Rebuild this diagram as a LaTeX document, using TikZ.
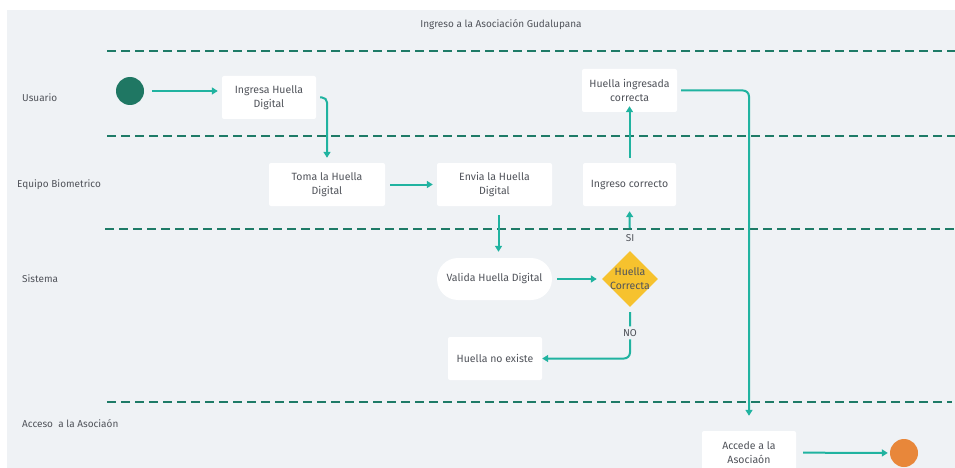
\documentclass[tikz,border=0pt]{standalone}
\usepackage{fontspec}
\setmainfont{Fira Sans}
\usetikzlibrary{arrows.meta,shapes.geometric}
\definecolor{bgcol}{HTML}{EFF2F5}
\definecolor{lanecol}{HTML}{1E7B67}
\definecolor{flowcol}{HTML}{20B3A0}
\definecolor{txtcol}{HTML}{50535A}
\definecolor{startcol}{HTML}{1F7763}
\definecolor{endcol}{HTML}{E8873A}
\definecolor{deccol}{HTML}{F6C22E}
\tikzset{
  x=1pt, y=-1pt,
  every node/.style={text=txtcol, font=\fontsize{10.5}{14}\selectfont},
  stepbox/.style={fill=white, rounded corners=2pt, minimum height=43pt, align=center, inner sep=2pt},
  pillbox/.style={fill=white, rounded corners=21pt, minimum height=42pt, minimum width=115pt, align=center},
  decbox/.style={diamond, fill=deccol, minimum width=56pt, minimum height=56pt, inner sep=0pt, aspect=1},
  lanelbl/.style={anchor=west, inner sep=0pt, font=\fontsize{10}{12}\selectfont},
  lanesep/.style={draw=lanecol, line width=2.4pt, dash pattern=on 9pt off 5pt},
  flow/.style={draw=flowcol, line width=2pt, -{Triangle[length=6pt,width=7pt]}},
  guard/.style={fill=bgcol, inner sep=3pt, font=\fontsize{10}{12}\selectfont},
}
\begin{document}
\begin{tikzpicture}
\useasboundingbox (0,0) rectangle (955,468);
\fill[bgcol] (7,10) rectangle (955,468);

% title and lane names
\node (title) at (501,25) {\fontsize{10}{12}\selectfont Ingreso a la Asociación Gudalupana};
\node[lanelbl] (lu) at (22,98) {Usuario};
\node[lanelbl] (le) at (17,185) {Equipo Biometrico};
\node[lanelbl] (ls) at (22,279) {Sistema};
\node[lanelbl] (la) at (22,424) {Acceso\ \ a la Asociaón};

% lane separators
\draw[lanesep] (107,51) -- (955,51);
\draw[lanesep] (107,136) -- (955,136);
\draw[lanesep] (105,229) -- (955,229);
\draw[lanesep] (107,402) -- (952,402);

% activities
\node[circle, fill=startcol, minimum size=28pt, inner sep=0pt] (start) at (130,91) {};
\node[stepbox, minimum width=94pt] (ingresa) at (269,97.5) {Ingresa Huella\\Digital};
\node[stepbox, minimum width=95pt] (hic) at (629.5,90.5) {Huella ingresada\\correcta};
\node[stepbox, minimum width=116pt] (toma) at (327,184.5) {Toma la Huella\\Digital};
\node[stepbox, minimum width=115pt] (envia) at (494.5,184.5) {Envia la Huella\\Digital};
\node[stepbox, minimum width=93pt] (ingc) at (629.5,184.5) {Ingreso correcto};
\node[pillbox] (valida) at (494.5,279) {Valida Huella Digital};
\node[decbox, label={[align=center, text=txtcol]center:Huella\\Correcta}] (dia) at (630,279) {};
\node[stepbox, minimum width=94pt] (noex) at (495,358.5) {Huella no existe};
\node[stepbox, minimum width=94pt] (accede) at (749,452.5) {Accede a la\\Asociaón};
\node[circle, fill=endcol, minimum size=28pt, inner sep=0pt] (stop) at (904,453) {};

% flow
\draw[flow, shorten <=8pt, shorten >=4pt] (start) -- (start -| ingresa.west);
\draw[flow, rounded corners=5pt] ([xshift=4pt]ingresa.east) -| ([yshift=5pt]toma.north);
\draw[flow, shorten <=5pt, shorten >=4pt] (toma) -- (envia);
\draw[flow, shorten <=9pt, shorten >=6pt] ([xshift=4pt]envia.south) -- ([xshift=4pt]envia.south |- valida.north);
\draw[flow, shorten <=5pt, shorten >=5pt] (valida) -- (dia);
\draw[flow, shorten <=23pt, shorten >=5pt] (dia.north) -- (ingc.south);
\node[guard] (si) at ([yshift=13pt]dia.north) {SI};
\draw[flow, shorten <=5pt] (ingc.north) -- ([yshift=6pt]hic.south);
\draw[flow, rounded corners=6pt] ([xshift=4pt]hic.east) -| ([yshift=15pt]accede.north);
\draw[flow, rounded corners=6pt, shorten <=5pt] (dia.south) |- (noex.east)
  node[guard, pos=0.25] (no) {NO};
\draw[flow, shorten <=7pt, shorten >=2pt] (accede) -- (stop);
\end{tikzpicture}
\end{document}
